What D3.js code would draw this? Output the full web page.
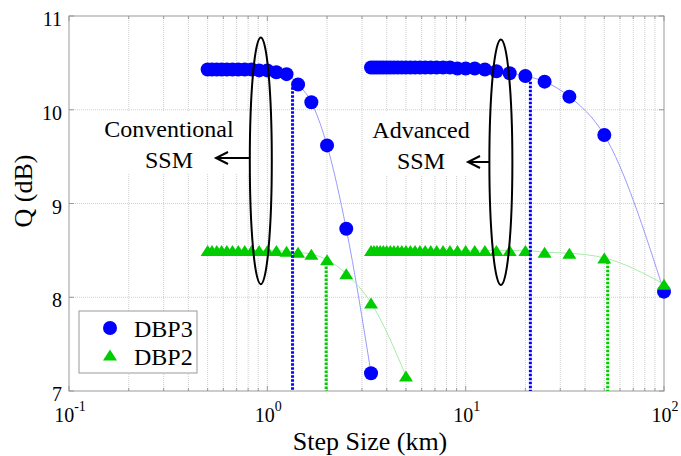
<!DOCTYPE html>
<html>
<head>
<meta charset="utf-8">
<script src="https://cdn.jsdelivr.net/npm/d3@7"></script>
<style>
  body { margin: 0; background: #fff; }
  text { font-family: 'Liberation Serif', 'Times New Roman', 'DejaVu Serif', serif; fill: #000; }
</style>
</head>
<body>
<svg width="681" height="456"></svg>
<script>
// conventional SSM: step = 10/N
const convSteps = [0.5, 0.526, 0.556, 0.588, 0.625, 0.667, 0.714, 0.769, 0.833, 0.909, 1.0, 1.111, 1.25, 1.429, 1.667, 2.0, 2.5, 3.333, 5.0]
const convDBP3 = [10.43, 10.43, 10.43, 10.43, 10.43, 10.43, 10.43, 10.43, 10.43, 10.42, 10.42, 10.40, 10.38, 10.27, 10.08, 9.62, 8.73, 7.19]
const convDBP2 = [8.50, 8.50, 8.50, 8.50, 8.50, 8.50, 8.50, 8.50, 8.50, 8.50, 8.50, 8.50, 8.49, 8.48, 8.46, 8.40, 8.25, 7.94, 7.16]

// advanced SSM: step = 100/N
const advSteps = [3.333, 3.448, 3.571, 3.704, 3.846, 4.0, 4.167, 4.348, 4.545, 4.762, 5.0, 5.263, 5.556, 5.882, 6.25, 6.667, 7.143, 7.692, 8.333, 9.091, 10.0, 11.111, 12.5, 14.286, 16.667, 20.0, 25.0, 33.333, 50.0, 100.0]
const advDBP3 = [10.45, 10.45, 10.45, 10.45, 10.45, 10.45, 10.45, 10.45, 10.45, 10.45, 10.45, 10.45, 10.45, 10.45, 10.45, 10.45, 10.45, 10.45, 10.45, 10.44, 10.44, 10.44, 10.43, 10.41, 10.39, 10.36, 10.30, 10.14, 9.73, 8.06]
const advDBP2 = [8.50, 8.50, 8.50, 8.50, 8.50, 8.50, 8.50, 8.50, 8.50, 8.50, 8.50, 8.50, 8.50, 8.50, 8.50, 8.50, 8.50, 8.50, 8.50, 8.50, 8.50, 8.50, 8.50, 8.50, 8.50, 8.50, 8.48, 8.47, 8.42, 8.14]

// threshold markers (dotted verticals)
const thrSteps = [1.34, 1.98, 21.2, 52.0]
const thrQ = [10.24, 8.37, 10.30, 8.38]
const thrSeries = ['DBP3', 'DBP2', 'DBP3', 'DBP2']

const yTicks = [7, 8, 9, 10, 11]
const xMajor = [0.1, 1, 10, 100]
const xExp = ['-1', '0', '1', '2']

const svg = d3.select('svg')
const mLeft = 69, mRight = 664, mTop = 16, mBottom = 391

const x = d3.scaleLog().domain([0.1, 100]).range([mLeft, mRight])
const y = d3.scaleLinear().domain([7, 11]).range([mBottom, mTop])

const color = { DBP3: '#0000ff', DBP2: '#00cc00' }
const lineColor = { DBP3: '#9a9aff', DBP2: '#a8eca8' }

let xMinor = []
for (let d = 0.1; d < 99; d *= 10) {
  for (let k = 2; k <= 9; k++) xMinor.push(d * k)
}

// grid
let grid = svg.append('g')
grid.selectAll('.gx')
  .data(xMinor.concat([1, 10]))
  .enter().append('line')
    .attr('x1', d => x(d)).attr('x2', d => x(d))
    .attr('y1', mTop).attr('y2', mBottom)
    .attr('stroke', '#cfcfcf').attr('stroke-width', 1)
    .attr('stroke-dasharray', '1,1')
grid.selectAll('.gy')
  .data([8, 9, 10])
  .enter().append('line')
    .attr('x1', mLeft).attr('x2', mRight)
    .attr('y1', d => y(d)).attr('y2', d => y(d))
    .attr('stroke', '#cfcfcf').attr('stroke-width', 1)
    .attr('stroke-dasharray', '1,1')

// axes box + ticks
let ax = svg.append('g').attr('stroke', '#999').attr('fill', 'none')
ax.append('rect')
  .attr('x', mLeft).attr('y', mTop)
  .attr('width', mRight - mLeft).attr('height', mBottom - mTop)
  .attr('stroke-width', 1)
xMinor.forEach(d => {
  ax.append('line').attr('x1', x(d)).attr('x2', x(d)).attr('y1', mBottom).attr('y2', mBottom - 3)
  ax.append('line').attr('x1', x(d)).attr('x2', x(d)).attr('y1', mTop).attr('y2', mTop + 3)
})
xMajor.forEach(d => {
  ax.append('line').attr('x1', x(d)).attr('x2', x(d)).attr('y1', mBottom).attr('y2', mBottom - 5)
  ax.append('line').attr('x1', x(d)).attr('x2', x(d)).attr('y1', mTop).attr('y2', mTop + 5)
})
yTicks.forEach(d => {
  ax.append('line').attr('x1', mLeft).attr('x2', mLeft + 5).attr('y1', y(d)).attr('y2', y(d))
  ax.append('line').attr('x1', mRight).attr('x2', mRight - 5).attr('y1', y(d)).attr('y2', y(d))
})

// tick labels
svg.selectAll('.ylab')
  .data(yTicks)
  .enter().append('text')
    .attr('x', mLeft - 7)
    .attr('y', d => y(d) + 10)
    .attr('text-anchor', 'end')
    .attr('font-size', 20)
    .text(d => d)

let xl = svg.selectAll('.xlab')
  .data(xMajor)
  .enter().append('text')
    .attr('x', d => x(d) + 1)
    .attr('y', 422)
    .attr('text-anchor', 'middle')
    .attr('font-size', 20)
xl.append('tspan').text('10')
xl.append('tspan')
  .attr('font-size', 14)
  .attr('dy', -11)
  .text((d, i) => xExp[i])

svg.append('text')
  .attr('x', 370).attr('y', 450)
  .attr('text-anchor', 'middle')
  .attr('font-size', 26)
  .text('Step Size (km)')
svg.append('text')
  .attr('transform', 'translate(32,191) rotate(-90)')
  .attr('text-anchor', 'middle')
  .attr('font-size', 26)
  .text('Q (dB)')

// annotation text backgrounds (drawn under data)
svg.append('rect').attr('x', 100).attr('y', 112).attr('width', 149).attr('height', 62).attr('fill', '#fff')
svg.append('rect').attr('x', 366).attr('y', 112).attr('width', 122).attr('height', 64).attr('fill', '#fff')

// curves
let line = d3.line()
  .x(d => x(d[0]))
  .y(d => y(d[1]))
  .curve(d3.curveMonotoneX)

let series = [
  { name: 'DBP3', steps: convSteps, q: convDBP3 },
  { name: 'DBP3', steps: advSteps, q: advDBP3 },
  { name: 'DBP2', steps: convSteps, q: convDBP2 },
  { name: 'DBP2', steps: advSteps, q: advDBP2 }
]

function triPath(cx, cy, w, h) {
  return 'M' + cx + ',' + (cy - h) + 'L' + (cx + w) + ',' + (cy + h) + 'L' + (cx - w) + ',' + (cy + h) + 'Z'
}

series.forEach(s => {
  let pts = s.q.map((v, i) => [s.steps[i], v])
  svg.append('path')
    .attr('d', line(pts))
    .attr('fill', 'none')
    .attr('stroke', lineColor[s.name])
    .attr('stroke-width', 1)
  let g = svg.append('g')
  if (s.name === 'DBP3') {
    g.selectAll('circle')
      .data(pts)
      .enter().append('circle')
        .attr('cx', d => x(d[0]))
        .attr('cy', d => y(d[1]))
        .attr('r', 7)
        .attr('fill', color.DBP3)
  } else {
    g.selectAll('path')
      .data(pts)
      .enter().append('path')
        .attr('d', d => triPath(x(d[0]), y(d[1]), 7, 5.5))
        .attr('fill', color.DBP2)
  }
})

// dotted threshold lines
svg.selectAll('.thr')
  .data(thrSteps)
  .enter().append('line')
    .attr('x1', d => x(d)).attr('x2', d => x(d))
    .attr('y1', (d, i) => y(thrQ[i])).attr('y2', mBottom)
    .attr('stroke', (d, i) => color[thrSeries[i]])
    .attr('stroke-width', 3)
    .attr('stroke-dasharray', '2.5,1.5')

// annotations
function annotate(step, qTop, qBot, rx, label, textX, yArrow, yText) {
  let cx = x(step)
  let cy = (y(qTop) + y(qBot)) / 2
  let ry = (y(qBot) - y(qTop)) / 2
  svg.append('ellipse')
    .attr('cx', cx).attr('cy', cy)
    .attr('rx', rx).attr('ry', ry)
    .attr('fill', 'none')
    .attr('stroke', '#000')
    .attr('stroke-width', 2)
  let tip = textX + 47
  svg.append('path')
    .attr('d', 'M' + (cx - rx) + ',' + yArrow + 'L' + tip + ',' + yArrow +
      'M' + (tip + 12) + ',' + (yArrow - 6) + 'L' + tip + ',' + yArrow + 'L' + (tip + 12) + ',' + (yArrow + 6))
    .attr('fill', 'none')
    .attr('stroke', '#000')
    .attr('stroke-width', 2)
  svg.append('text')
    .attr('x', textX).attr('y', yText)
    .attr('text-anchor', 'middle')
    .attr('font-size', 24)
    .text(label)
  svg.append('text')
    .attr('x', textX).attr('y', yText + 31)
    .attr('text-anchor', 'middle')
    .attr('font-size', 24)
    .text('SSM')
}
annotate(0.927, 10.77, 8.14, 11, 'Conventional', 169, 158, 137)
annotate(15.05, 10.75, 8.13, 11.5, 'Advanced', 421, 162, 138)

// legend
let lg = svg.append('g')
lg.append('rect')
  .attr('x', 79).attr('y', 311)
  .attr('width', 118).attr('height', 62)
  .attr('fill', '#fff')
  .attr('stroke', '#999')
lg.append('circle').attr('cx', 110).attr('cy', 328).attr('r', 7).attr('fill', color.DBP3)
lg.append('path').attr('d', triPath(110, 355, 7, 5.5)).attr('fill', color.DBP2)
lg.append('text').attr('x', 134).attr('y', 337).attr('font-size', 24).text('DBP3')
lg.append('text').attr('x', 134).attr('y', 365).attr('font-size', 24).text('DBP2')
</script>
</body>
</html>
